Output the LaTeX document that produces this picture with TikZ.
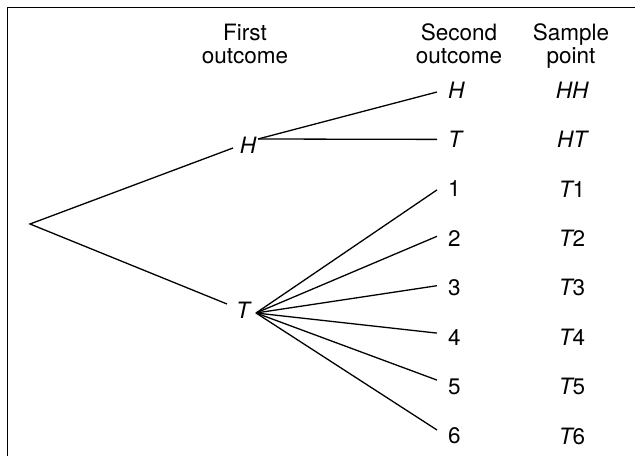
\documentclass[tikz,border=0pt]{standalone}
\usepackage{fontspec}
\setmainfont{TeX Gyre Heros}
\begin{document}
\begin{tikzpicture}[x=1bp,y=-1bp,
  txt/.style={font=\fontsize{22.5bp}{25bp}\selectfont, inner sep=0pt},
  head/.style={txt, anchor=base},
  lab/.style={txt, anchor=west, inner xsep=11bp},
  samp/.style={txt},
  branch/.style={line width=1.3bp},
  frameline/.style={line width=1.5bp}]
\useasboundingbox (0,0) rectangle (635,456);
\draw[frameline] (7.5,456) -- (7.5,7.5) -- (635,7.5);
% headers
\node[head] (h1a) at (245,41) {First};
\node[head] (h1b) at (245,64) {outcome};
\node[head] (h2a) at (459,41) {Second};
\node[head] (h2b) at (459,64) {outcome};
\node[head] (h3a) at (571,41) {Sample};
\node[head] (h3b) at (571,64) {point};
% first level
\coordinate (root) at (30,224);
\node[txt] (H) at (248,145) {\itshape H};
\node[txt] (T) at (243,310) {\itshape T};
\coordinate (Hin) at (233,148);
\coordinate (Tin) at (227,304);
\coordinate (Hb) at (258,139);
\coordinate (Tb) at (256,313);
\draw[branch] (Hin) -- (root) -- (Tin);
% second level
\node[lab] (sH) at (437,90) {\itshape H};
\node[lab] (sT) at (437,139.4) {\itshape T};
\node[lab] (n1) at (437,188.9) {1};
\node[lab] (n2) at (437,238.3) {2};
\node[lab] (n3) at (437,287.7) {3};
\node[lab] (n4) at (437,337.1) {4};
\node[lab] (n5) at (437,386.6) {5};
\node[lab] (n6) at (437,436) {6};
\draw[branch] (Hb) -- ([yshift=-2bp]sH.west);
\draw[branch] (Hb) -- (sT.west);
\draw[branch] (Tb) -- ([yshift=-1bp]n1.west);
\draw[branch] (Tb) -- ([yshift=2bp]n2.west);
\draw[branch] (Tb) -- ([yshift=2bp]n3.west);
\draw[branch] (Tb) -- ([yshift=4bp]n4.west);
\draw[branch] (Tb) -- ([yshift=6.5bp]n5.west);
\draw[branch] (Tb) -- ([yshift=6bp]n6.west);
% sample points
\node[samp] (pHH) at (572,90) {\itshape HH};
\node[samp] (pHT) at (572,139.4) {\itshape HT};
\node[samp] (pT1) at (572,188.9) {{\itshape T}1};
\node[samp] (pT2) at (572,238.3) {{\itshape T}2};
\node[samp] (pT3) at (572,287.7) {{\itshape T}3};
\node[samp] (pT4) at (572,337.1) {{\itshape T}4};
\node[samp] (pT5) at (572,386.6) {{\itshape T}5};
\node[samp] (pT6) at (572,436) {{\itshape T}6};
\end{tikzpicture}
\end{document}
